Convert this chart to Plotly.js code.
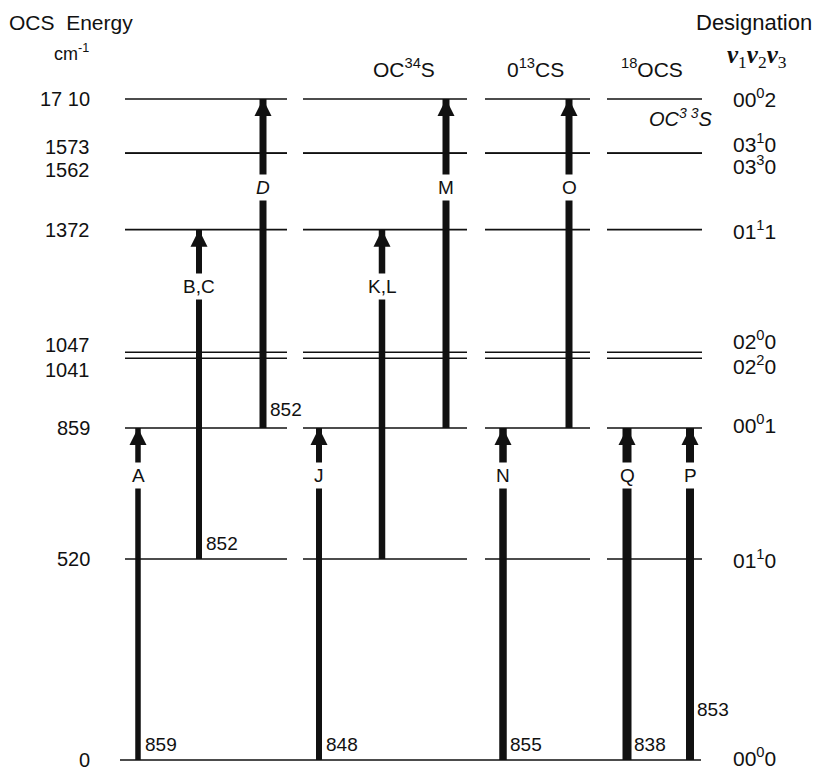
<!DOCTYPE html>
<html><head><meta charset="utf-8">
<script src="https://cdn.plot.ly/plotly-3.0.1.min.js"></script>
<style>html,body{margin:0;padding:0;background:#fff}#chart{width:817px;height:770px}</style>
</head><body><div id="chart"></div>
<script>
// ================= DATA =================
const levelEnergies = [0, 520, 859, 1041, 1047, 1372, 1562, 1573, 1710];
const levelTickLabels = ['0', '520', '859', '1041', '1047', '1372', '1562', '1573', '17 10'];
const levelDesignations = ['00<sup>0</sup>0', '01<sup>1</sup>0', '00<sup>0</sup>1', '02<sup>2</sup>0', '02<sup>0</sup>0',
                           '01<sup>1</sup>1', '03<sup>3</sup>0', '03<sup>1</sup>0', '00<sup>0</sup>2'];
const isotopeColumns = ['OCS', 'OC<sup>34</sup>S', '0<sup>13</sup>CS', '<sup>18</sup>OCS'];
const extraIsotope = '<i>OC<sup>3 3</sup>S</i>';
const transitionNames = ['A', 'B,C', '<i>D</i>', 'J', 'K,L', 'M', 'N', 'O', 'Q', 'P'];
const transitionColumn = [0, 0, 0, 1, 1, 1, 2, 2, 3, 3];
const transitionLower = [0, 520, 859, 0, 520, 859, 0, 859, 0, 0];
const transitionUpper = [859, 1372, 1710, 859, 1372, 1710, 859, 1710, 859, 859];
const laserLines = ['859', '852', '852', '848', '', '', '855', '', '838', '853'];

// ================= LAYOUT / STYLE =================
const W = 817, H = 770;
const Y0PX = 760, YTOPPX = 99;             // pixel rows of lowest and highest level
const Emax = Math.max(...levelEnergies);
const R = Emax * H / (Y0PX - YTOPPX);
const yMin = -(H - Y0PX) * R / H;
const pyPaper = py => 1 - py / H;

const colX = [[125, 287], [303, 467], [485, 590], [607, 702]];
const groundX = [120, 701];
const arrowX = [138, 199, 263, 319, 382, 446, 503, 569, 627, 690];
const arrowW = [5.5, 6, 7, 6, 6.5, 7, 7.5, 7, 9, 8];
const lineShift = [0, 0, 0, -0.7, 3, 0, 3, -1, 0];
const tickShift = [0, 0, 0, -12, 10, 0, -14, 5, 0];
const desigShift = [3, 0, 4, -7, 15, 0, -9, 9, 1];
const labelFrac = {0: 0.858, 520: 0.826, 859: 0.732};
const freqShift = [3, 3, 6, 3, 0, 0, 3, 0, 3, 38];
const HEAD = 'M0,0L-8.5,-17L8.5,-17Z';
const FONT = 'Liberation Sans, Arial, sans-serif';
const INK = '#111';

const shapes = [];
levelEnergies.forEach((E, i) => {
  const segs = E === 0 ? [groundX] : colX;
  segs.forEach(s => shapes.push({
    type: 'line', xref: 'x', yref: 'y', ysizemode: 'pixel', yanchor: E,
    x0: s[0], x1: s[1], y0: lineShift[i], y1: lineShift[i],
    line: {color: INK, width: 1.6}
  }));
});
transitionNames.forEach((n, k) => shapes.push({
  type: 'path', xref: 'x', yref: 'y', xsizemode: 'pixel', ysizemode: 'pixel',
  xanchor: arrowX[k], yanchor: transitionUpper[k], path: HEAD,
  fillcolor: INK, line: {width: 0}, layer: 'above'
}));

const traces = transitionNames.map((n, k) => ({
  type: 'scatter', mode: 'lines',
  x: [arrowX[k], arrowX[k]], y: [transitionLower[k], transitionUpper[k]],
  line: {color: INK, width: arrowW[k], backoff: 12},
  hoverinfo: 'skip', showlegend: false, cliponaxis: false
}));

const ann = [];
levelEnergies.forEach((E, i) => {
  ann.push({x: 92, y: E, xref: 'x', yref: 'y', xanchor: 'right', yanchor: 'middle', yshift: tickShift[i],
            text: levelTickLabels[i], showarrow: false, font: {family: FONT, size: 20, color: INK}});
  ann.push({x: 731, y: E, xref: 'x', yref: 'y', xanchor: 'left', yanchor: 'middle', yshift: desigShift[i],
            text: levelDesignations[i], showarrow: false, font: {family: FONT, size: 21, color: INK}});
});
transitionNames.forEach((n, k) => {
  const lo = transitionLower[k], hi = transitionUpper[k];
  ann.push({x: arrowX[k], y: lo + labelFrac[lo] * (hi - lo), xref: 'x', yref: 'y',
            xanchor: 'center', yanchor: 'middle', text: n, showarrow: false, bgcolor: '#fff', borderpad: 2,
            font: {family: FONT, size: 19, color: INK}});
  if (laserLines[k]) ann.push({x: arrowX[k] + 5, y: lo, xref: 'x', yref: 'y', xanchor: 'left', yanchor: 'bottom',
            yshift: freqShift[k], text: laserLines[k], showarrow: false, font: {family: FONT, size: 19, color: INK}});
});
const headerX = [null, 404, 535, 652];
isotopeColumns.forEach((t, c) => {
  if (headerX[c] === null) return;
  ann.push({x: headerX[c], y: pyPaper(68), xref: 'x', yref: 'paper', xanchor: 'center', yanchor: 'middle',
            text: t, showarrow: false, font: {family: FONT, size: 21, color: INK}});
});
ann.push({x: 680, y: pyPaper(117), xref: 'x', yref: 'paper', xanchor: 'center', yanchor: 'middle',
          text: extraIsotope, showarrow: false, font: {family: FONT, size: 20, color: INK}});
ann.push({x: 7, y: pyPaper(22), xref: 'x', yref: 'paper', xanchor: 'left', yanchor: 'middle',
          text: 'OCS  Energy', showarrow: false, font: {family: FONT, size: 21, color: INK}});
ann.push({x: 52, y: pyPaper(52), xref: 'x', yref: 'paper', xanchor: 'left', yanchor: 'middle',
          text: 'cm<sup>-1</sup>', showarrow: false, font: {family: FONT, size: 18, color: INK}});
ann.push({x: 814, y: pyPaper(22), xref: 'x', yref: 'paper', xanchor: 'right', yanchor: 'middle',
          text: 'Designation', showarrow: false, font: {family: FONT, size: 22, color: INK}});
ann.push({x: 757, y: pyPaper(57), xref: 'x', yref: 'paper', xanchor: 'center', yanchor: 'middle',
          text: '<b><i>ν</i></b><sub>1</sub><b><i>ν</i></b><sub>2</sub><b><i>ν</i></b><sub>3</sub>', showarrow: false,
          font: {family: 'Liberation Serif, DejaVu Serif, serif', size: 25, color: INK}});

const layout = {
  width: W, height: H, margin: {l: 0, r: 0, t: 0, b: 0},
  paper_bgcolor: '#fff', plot_bgcolor: '#fff', showlegend: false, hovermode: false,
  xaxis: {range: [0, W], visible: false, fixedrange: true},
  yaxis: {range: [yMin, yMin + R], visible: false, fixedrange: true},
  shapes: shapes, annotations: ann
};
Plotly.newPlot('chart', traces, layout, {staticPlot: true, displayModeBar: false});
</script></body></html>
